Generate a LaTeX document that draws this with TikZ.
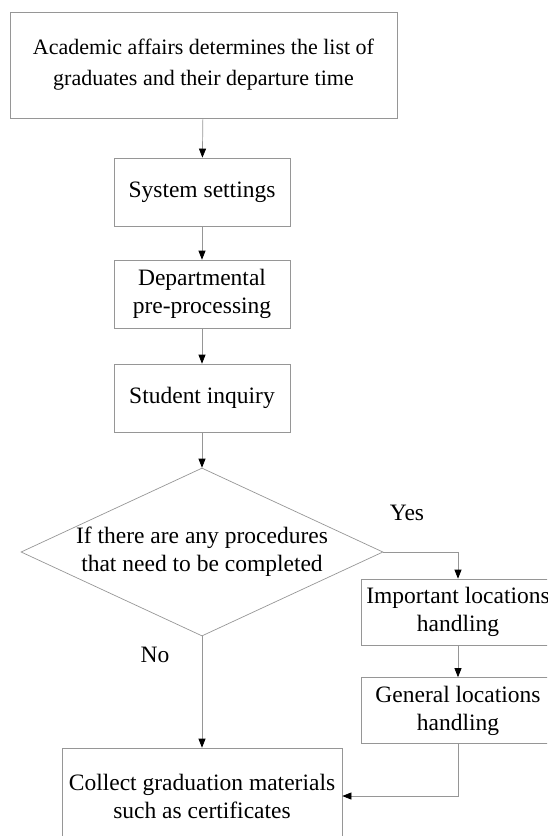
\documentclass[tikz,border=0pt]{standalone}
\usepackage{fontspec}
\setmainfont{Liberation Serif}
\usepackage{tikz}
\usetikzlibrary{shapes.geometric,arrows.meta}
\definecolor{linegray}{RGB}{150,150,150}
\tikzset{
    boxtext/.style={align=center, inner sep=1pt, text centered, font=\fontsize{23.5}{28}\selectfont},
    process/.style={boxtext, draw=linegray, line width=0.7pt, minimum width=176pt, minimum height=68pt},
    sidebox/.style={process, minimum width=194pt, minimum height=66pt},
    decision/.style={diamond, draw=linegray, line width=0.7pt, minimum width=362pt, minimum height=168pt, inner sep=0pt},
    flow/.style={draw=linegray, line width=0.7pt, -{Triangle[color=black, length=9pt, width=7pt]}}
}

\begin{document}
\begin{tikzpicture}[x=1pt, y=-1pt]
\clip (0,0) rectangle (547,836);

\node[process, minimum width=387pt, minimum height=106pt, font=\fontsize{22}{31}\selectfont] (list) at (203.5,65)
    {Academic affairs determines the list of\\graduates and their departure time};
\node[process] (sys) at (202,192) {System settings};
\node[process] (dept) at (202,294) {Departmental\\pre-processing};
\node[process] (inq) at (202,398) {Student inquiry};
\node[decision, label={[boxtext]center:If there are any procedures\\that need to be completed}] (check) at (202,552) {};
\node[sidebox] (imp) at (458,612) {Important locations\\handling};
\node[sidebox] (gen) at (458,710.5) {General locations\\handling};
\node[process, minimum width=280pt, minimum height=96pt] (fin) at (202,796)
    {Collect graduation materials\\such as certificates};

% branch labels
\node[boxtext] (yes) at (407,513) {Yes};
\node[boxtext] (no) at (155,655) {No};

\draw[flow] (list) -- (sys);
\draw[flow] (sys) -- (dept);
\draw[flow] (dept) -- (inq);
\draw[flow] (inq) -- (check);
\draw[flow] (check.east) -| (imp.north);
\draw[flow] (imp) -- (gen);
\draw[flow] (check) -- (fin);
\draw[flow] (gen) |- (fin.east);

\end{tikzpicture}
\end{document}
